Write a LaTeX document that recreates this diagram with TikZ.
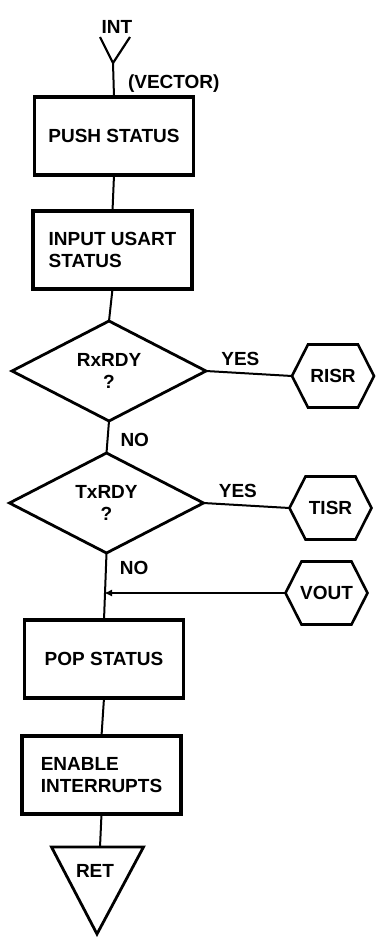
\documentclass[tikz,border=0pt]{standalone}
\usepackage{fontspec}
\setmainfont{Liberation Sans}
\usetikzlibrary{positioning, arrows.meta, shapes.geometric}

\begin{document}
\begin{tikzpicture}[
  x=1pt, y=-1pt,
  every node/.style={font=\fontsize{19}{22}\selectfont\bfseries, inner sep=0pt, outer sep=0pt},
  box/.style={draw, line width=3.4pt, minimum width=159pt, minimum height=78pt, align=left},
  decision/.style={draw, diamond, line width=2.8pt, minimum width=194pt, minimum height=100pt, align=center},
  hexbox/.style={minimum width=82pt, minimum height=63pt},
  link/.style={line width=2pt},
  arr/.style={link, -{Latex[length=8pt, width=7pt]}}
]
  \useasboundingbox (0,0) rectangle (377,940);

  % main column
  \node[box] (push) at (114,136) {PUSH STATUS};
  \node[box, below=36pt of push, xshift=-1.5pt] (input) {INPUT USART\\STATUS};
  \node[decision, below=32pt of input, xshift=-3.5pt] (rx) {RxRDY\\?};
  \node[decision, below=32pt of rx, xshift=-2.5pt] (tx) {TxRDY\\?};
  \node[box, below=67pt of tx, xshift=-2.5pt] (pop) {POP STATUS};
  \node[box, below=38pt of pop, xshift=-2.5pt] (enable) {ENABLE\\INTERRUPTS};

  % entry and exit
  \coordinate[above=34pt of push, xshift=-1pt] (int tip);
  \node[above=30pt of int tip, xshift=4pt] (int) {INT};
  \node[below right=12pt and 15pt of int tip] (vec) {(VECTOR)};
  \draw[line width=2.2pt] ([xshift=-13pt, yshift=26pt]int tip) -- (int tip) -- ([xshift=17pt, yshift=26pt]int tip);
  \coordinate[below=33pt of enable, xshift=-1.5pt] (ret top);
  \draw[line width=2.8pt] ([xshift=-48.5pt]ret top) -- ([xshift=43.5pt]ret top) -- ([xshift=-3pt, yshift=-87pt]ret top) -- cycle;
  \node[below=17pt of ret top, xshift=-5pt] (ret) {RET};

  % side routines
  \node[hexbox, right=86pt of rx, yshift=-5pt] (risr) {RISR};
  \node[hexbox, right=86pt of tx, yshift=-5pt] (tisr) {TISR};
  \node[hexbox, below=22pt of tisr, xshift=-4pt] (vout) {VOUT};
  \foreach \h in {risr,tisr,vout}
    \draw[line width=2.6pt] (\h.west) -- ([xshift=16pt]\h.north west) -- ([xshift=-16pt]\h.north east)
      -- (\h.east) -- ([xshift=-16pt]\h.south east) -- ([xshift=16pt]\h.south west) -- cycle;

  \draw[link] (int tip) -- (push.north);
  \draw[link] (push.south) -- (input.north);
  \draw[link] (input.south) -- (rx.north);
  \draw[link] (rx.south) -- node[pos=0.6, right=13pt] {NO} (tx.north);
  \draw[link] (rx.east) -- node[pos=0.4, above=7pt] {YES} (risr.west);
  \draw[link] (tx.east) -- node[pos=0.4, above=7pt] {YES} (tisr.west);
  \draw[link] (tx.south) -- node[pos=0.22, right=14pt] {NO} (pop.north);
  \draw[arr] (vout.west) -- (vout.west -| pop.north);
  \draw[link] (pop.south) -- (enable.north);
  \draw[link] (enable.south) -- (ret top);
\end{tikzpicture}
\end{document}
